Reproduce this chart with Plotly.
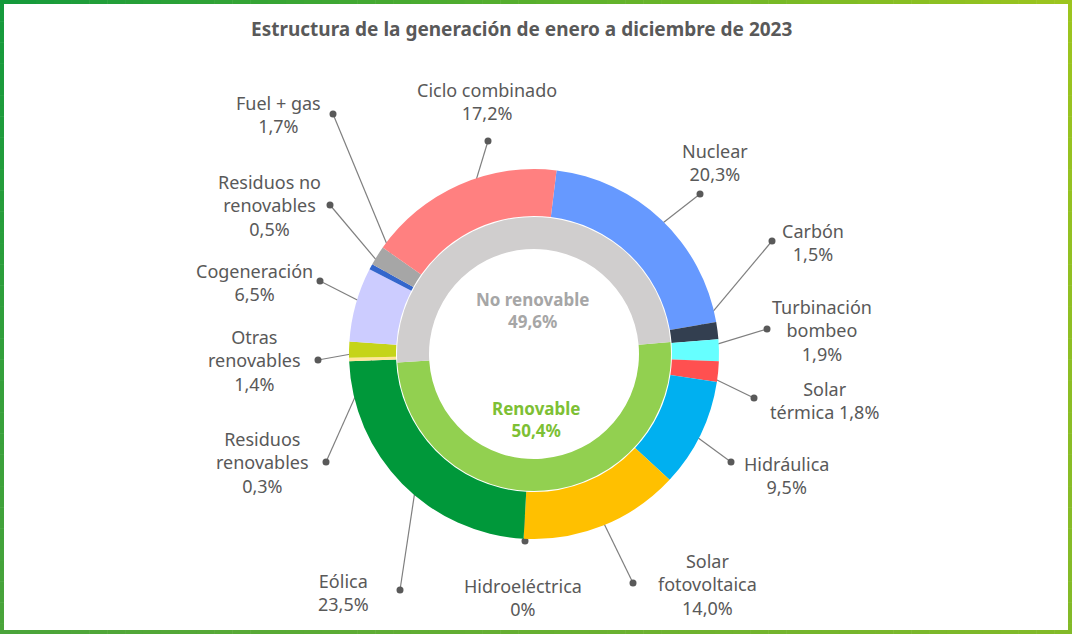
import math
import plotly.graph_objects as go

W, H = 1072, 634

# ---------------- data ----------------
outer_labels = ["Nuclear", "Carbón", "Turbinación bombeo", "Solar térmica", "Hidráulica",
                "Solar fotovoltaica", "Hidroeléctrica", "Eólica", "Residuos renovables",
                "Otras renovables", "Cogeneración", "Residuos no renovables", "Fuel + gas",
                "Ciclo combinado"]
outer_values = [20.3, 1.5, 1.9, 1.8, 9.5, 14.0, 0.0, 23.5, 0.3, 1.4, 6.5, 0.5, 1.7, 17.2]
outer_colors = ["#6699FF", "#333F50", "#66FFFF", "#FF5050", "#00B0F0", "#FFC000", "#FFFFFF",
                "#00983A", "#FFE699", "#C5D419", "#CCCCFF", "#3366CC", "#A6A6A6", "#FF8080"]

inner_labels = ["Renovable", "No renovable"]
inner_values = [50.4, 49.6]
inner_colors = ["#92D050", "#D0CECE"]
inner_text_colors = ["#7DC034", "#A6A6A6"]

title_text = "Estructura de la generación de enero a diciembre de 2023"

# ---------------- layout helpers (pixel positions) ----------------
CX, CY = 534, 354
R_OUT, R_OUT_IN = 185, 138
R_IN, R_IN_IN = 137, 105
ROT_OUT, ROT_IN = 7, 85
R_LEADER = 162

# display text templates, text centre, dot position
label_layout = {
    "Nuclear": ("Nuclear<br>{p}", (715, 162), (700, 194)),
    "Carbón": ("Carbón<br>{p}", (813, 242), (772, 241)),
    "Turbinación bombeo": ("Turbinación<br>bombeo<br>{p}", (822, 330), (767, 329)),
    "Solar térmica": ("Solar<br>térmica {p}", (824, 400), (754, 398)),
    "Hidráulica": ("Hidráulica<br>{p}", (786, 475), (731, 462)),
    "Solar fotovoltaica": ("Solar<br>fotovoltaica<br>{p}", (707, 584), (633, 583)),
    "Hidroeléctrica": ("Hidroeléctrica<br>{p}", (523, 597), (525, 541)),
    "Eólica": ("Eólica<br>{p}", (343, 592), (400, 590)),
    "Residuos renovables": ("Residuos<br>renovables<br>{p}", (262, 462), (326, 462)),
    "Otras renovables": ("Otras<br>renovables<br>{p}", (254, 360), (318, 360)),
    "Cogeneración": ("Cogeneración<br>{p}", (254, 282), (320, 281)),
    "Residuos no renovables": ("Residuos no<br>renovables<br>{p}", (269, 205), (330, 205)),
    "Fuel + gas": ("Fuel + gas<br>{p}", (278, 114), (333, 114)),
    "Ciclo combinado": ("Ciclo combinado<br>{p}", (487, 101), (488, 141)),
}


def fmt_pct(v):
    if v == 0:
        return "0%"
    return f"{v:.1f}".replace(".", ",") + "%"


def px_domain(r):
    return dict(x=[(CX - r) / W, (CX + r) / W], y=[1 - (CY + r) / H, 1 - (CY - r) / H])


fig = go.Figure()

fig.add_trace(go.Pie(
    labels=outer_labels, values=outer_values, sort=False, direction="clockwise",
    rotation=ROT_OUT, hole=R_OUT_IN / R_OUT, domain=px_domain(R_OUT),
    marker=dict(colors=outer_colors, line=dict(width=0)),
    textinfo="none", hoverinfo="label+percent", showlegend=False,
))
fig.add_trace(go.Pie(
    labels=inner_labels, values=inner_values, sort=False, direction="clockwise",
    rotation=ROT_IN, hole=R_IN_IN / R_IN, domain=px_domain(R_IN),
    marker=dict(colors=inner_colors, line=dict(width=0)),
    textinfo="none", hoverinfo="label+percent", showlegend=False,
))

# leader lines computed from slice mid-angles
total = sum(outer_values)
lx, ly, dx, dy = [], [], [], []
annotations = []
cum = 0.0
for lab, v in zip(outer_labels, outer_values):
    mid = ROT_OUT + (cum + v / 2) / total * 360
    cum += v
    a = math.radians(mid)
    ex, ey = CX + R_LEADER * math.sin(a), CY - R_LEADER * math.cos(a)
    tmpl, (tx, ty), (px, py) = label_layout[lab]
    lx += [px, ex, None]
    ly += [py, ey, None]
    dx.append(px)
    dy.append(py)
    annotations.append(dict(
        x=tx, y=ty, xref="x", yref="y", text=tmpl.format(p=fmt_pct(v)), showarrow=False,
        font=dict(family="Noto Sans", size=18, color="#595959"), align="center",
        xanchor="center", yanchor="middle"))

fig.add_trace(go.Scatter(x=lx, y=ly, mode="lines", line=dict(color="#7F7F7F", width=1.2),
                         hoverinfo="skip", showlegend=False, cliponaxis=False))
fig.add_trace(go.Scatter(x=dx, y=dy, mode="markers", marker=dict(color="#595959", size=7),
                         hoverinfo="skip", showlegend=False, cliponaxis=False))

# centre labels
centre_pos = {"No renovable": (532, 310), "Renovable": (536, 419)}
for lab, v, c in zip(inner_labels, inner_values, inner_text_colors):
    tx, ty = centre_pos[lab]
    annotations.append(dict(
        x=tx, y=ty, xref="x", yref="y", text=f"<b>{lab}<br>{fmt_pct(v)}</b>", showarrow=False,
        font=dict(family="Noto Sans", size=17, color=c), align="center",
        xanchor="center", yanchor="middle"))

annotations.append(dict(
    x=521, y=29, xref="x", yref="y", text=f"<b>{title_text}</b>", showarrow=False,
    font=dict(family="Noto Sans", size=19, color="#595959"), xanchor="center", yanchor="middle"))

# gradient border
def lerp(c0, c1, t):
    return tuple(round(a + (b - a) * t) for a, b in zip(c0, c1))

TL, TR = (20, 154, 60), (157, 197, 30)
BL, BR = (74, 164, 58), (130, 186, 40)
shapes = []
N = 60
bw = 4
for i in range(N):
    t0, t1 = i / N, (i + 1) / N
    ct = lerp(TL, TR, (t0 + t1) / 2)
    cb = lerp(BL, BR, (t0 + t1) / 2)
    shapes.append(dict(type="rect", xref="x", yref="y", x0=t0 * W, x1=t1 * W + 0.5, y0=0, y1=bw,
                       fillcolor=f"rgb{ct}", line=dict(width=0), layer="above"))
    shapes.append(dict(type="rect", xref="x", yref="y", x0=t0 * W, x1=t1 * W + 0.5, y0=H - bw, y1=H,
                       fillcolor=f"rgb{cb}", line=dict(width=0), layer="above"))
    cl = lerp(TL, BL, (t0 + t1) / 2)
    cr = lerp(TR, BR, (t0 + t1) / 2)
    shapes.append(dict(type="rect", xref="x", yref="y", x0=0, x1=bw, y0=t0 * H, y1=t1 * H + 0.5,
                       fillcolor=f"rgb{cl}", line=dict(width=0), layer="above"))
    shapes.append(dict(type="rect", xref="x", yref="y", x0=W - bw, x1=W, y0=t0 * H, y1=t1 * H + 0.5,
                       fillcolor=f"rgb{cr}", line=dict(width=0), layer="above"))

fig.update_layout(
    width=W, height=H, margin=dict(l=0, r=0, t=0, b=0),
    paper_bgcolor="white", plot_bgcolor="rgba(0,0,0,0)",
    xaxis=dict(range=[0, W], visible=False, fixedrange=True, domain=[0, 1]),
    yaxis=dict(range=[H, 0], visible=False, fixedrange=True, domain=[0, 1]),
    annotations=annotations, shapes=shapes, showlegend=False,
)

fig.write_html("out.html")
